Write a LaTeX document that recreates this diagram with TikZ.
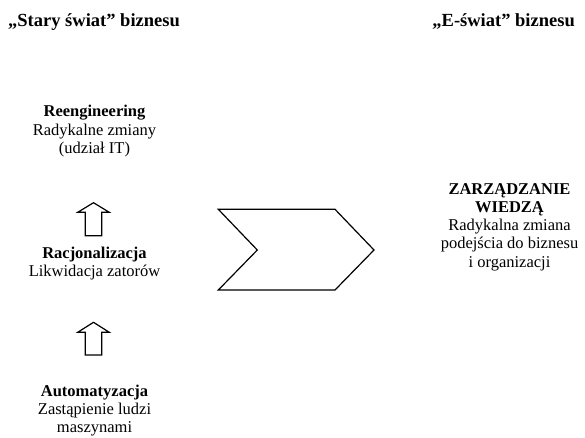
\documentclass[tikz,border=0pt]{standalone}
\usepackage{fontspec}
\setmainfont{Liberation Serif}
\begin{document}
\begin{tikzpicture}[x=1pt,y=-1pt,
  title/.style={anchor=base,inner sep=0pt,font=\fontsize{18.5}{20}\selectfont\bfseries},
  block/.style={anchor=base,inner sep=0pt,align=center,font=\fontsize{16.5}{18.2}\selectfont},
  shapeline/.style={draw=black,line width=1.2pt,line join=miter,fill=white}]
\useasboundingbox (0,0) rectangle (585,437);
\node[title,anchor=base west] (t1) at (8,26) {„Stary świat” biznesu};
\node[title,anchor=base east] (t2) at (575,26) {„E-świat” biznesu};
\node[block] (reng) at (94.5,153.3) {\textbf{Reengineering}\\Radykalne zmiany\\(udział IT)};
\node[block] (racj) at (94.5,276.7) {\textbf{Racjonalizacja}\\Likwidacja zatorów};
\node[block] (auto) at (94.5,432.7) {\textbf{Automatyzacja}\\Zastąpienie ludzi\\maszynami};
\node[block] (zw) at (509.5,267) {\textbf{ZARZĄDZANIE}\\\textbf{WIEDZĄ}\\Radykalna zmiana\\podejścia do biznesu\\i organizacji};
% up arrows
\draw[shapeline] (85.3,235.7) -- (85.3,212.3) -- (77.7,212.3) -- (93.5,202.7) -- (109.3,212.3) -- (101.7,212.3) -- (101.7,235.7) -- cycle;
\draw[shapeline] (85.3,355) -- (85.3,332.3) -- (77.7,332.3) -- (93.5,322.3) -- (109.3,332.3) -- (101.7,332.3) -- (101.7,355) -- cycle;
% chevron
\draw[shapeline] (218.3,209.3) -- (335,209.3) -- (374,250) -- (335,290) -- (218.3,290) -- (257.3,250) -- cycle;
\end{tikzpicture}
\end{document}
